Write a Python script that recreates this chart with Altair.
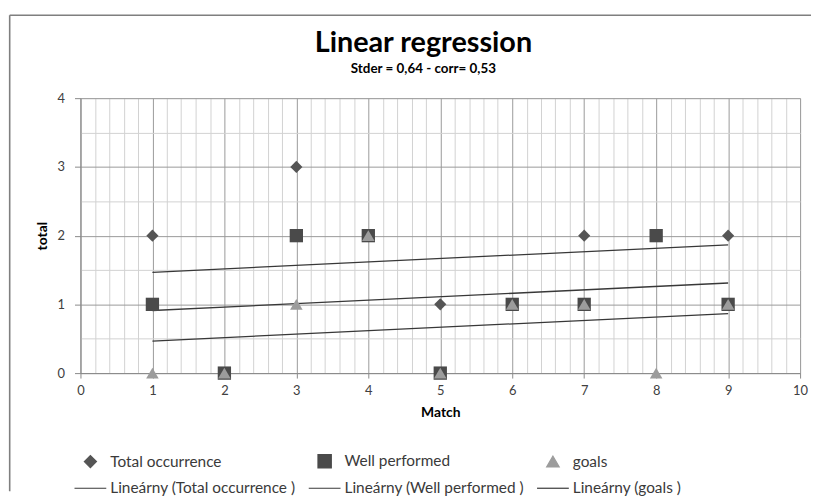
import altair as alt
import pandas as pd

match = [1, 2, 3, 4, 5, 6, 7, 8, 9]
total_occurrence = [2, 0, 3, 2, 1, 1, 2, 2, 2]
well_performed = [1, 0, 2, 2, 0, 1, 1, 2, 1]
goals = [0, 0, 1, 2, 0, 1, 1, 0, 1]

series_names = ["Total occurrence", "Well performed", "goals"]
line_names = ["Lineárny (Total occurrence )", "Lineárny (Well performed )", "Lineárny (goals )"]

rows = []
for name, vals in zip(series_names, [total_occurrence, well_performed, goals]):
    for m, v in zip(match, vals):
        rows.append({"match": m, "value": v, "series": name, "key": name})
df = pd.DataFrame(rows)

keys = series_names + line_names
color_scale = alt.Scale(domain=keys, range=["#555555", "#4a4a4a", "#9c9c9c", "#383838", "#383838", "#383838"])
shape_scale = alt.Scale(domain=keys, range=["diamond", "square", "triangle-up", "stroke", "stroke", "stroke"])
size_scale = alt.Scale(type="ordinal", domain=keys, range=[150, 180, 160, 1024, 1024, 1024])

x_vals = [round(i * 0.2, 1) for i in range(51)]
y_vals = [round(i * 0.5, 1) for i in range(9)]
is_major = "abs(datum.value - round(datum.value)) < 0.001"
label_expr = f"{is_major} ? '' + round(datum.value) : ''"

x_axis = alt.Axis(
    values=x_vals, title="Match", labelExpr=label_expr,
    gridColor={"condition": {"test": is_major, "value": "#9a9a9a"}, "value": "#d2d2d2"},
    tickColor={"condition": {"test": is_major, "value": "#8a8a8a"}, "value": "transparent"},
    tickSize=5, labelPadding=7, labelFlush=False, labelOverlap=False,
    labelFont="Lato", labelFontSize=13, labelColor="#404040",
    titleFont="Lato", titleFontSize=14, titleFontWeight="bold", titleColor="#000000", titlePadding=8,
    domainColor="#8a8a8a", gridWidth=1,
)
y_axis = alt.Axis(
    values=y_vals, title="total", labelExpr=label_expr,
    gridColor={"condition": {"test": is_major, "value": "#9a9a9a"}, "value": "#d2d2d2"},
    tickColor={"condition": {"test": is_major, "value": "#8a8a8a"}, "value": "transparent"},
    tickSize=6, labelPadding=10, labelFlush=False, labelOverlap=False,
    labelFont="Lato", labelFontSize=13, labelColor="#404040",
    titleFont="Lato", titleFontSize=14, titleFontWeight="bold", titleColor="#000000", titlePadding=8,
    domainColor="#8a8a8a",
)

x_enc = alt.X("match:Q", scale=alt.Scale(domain=[0, 10], nice=False, zero=False), axis=x_axis)
y_enc = alt.Y("value:Q", scale=alt.Scale(domain=[0, 4], nice=False), axis=y_axis)

legend = alt.Legend(
    title=None, orient="none", direction="horizontal", legendX=-7, legendY=358,
    columns=3, columnPadding=10, rowPadding=1,
    labelFont="Lato", labelFontSize=15.5, labelColor="#3a3a3a", labelLimit=400, labelOffset=3,
    symbolStrokeWidth=1.2, symbolOpacity=1,
)

base = alt.Chart(df)

lines = base.transform_regression(
    "match", "value", groupby=["series"]
).transform_calculate(
    key="'Lineárny (' + datum.series + ' )'"
).mark_line(strokeWidth=1.3).encode(
    x=x_enc, y=y_enc,
    color=alt.Color("key:N", scale=color_scale, legend=legend),
)

points = base.mark_point(filled=True, opacity=1).encode(
    x=x_enc, y=y_enc,
    color=alt.Color("key:N", scale=color_scale, legend=legend),
    shape=alt.Shape("key:N", scale=shape_scale, legend=legend),
    size=alt.Size("key:N", scale=size_scale, legend=legend),
)

frame_data = alt.Data(values=[{"a": 0}])
frame_left = alt.Chart(frame_data).mark_rule(color="#7f7f7f", strokeWidth=1.6).encode(
    x=alt.value(-71.3), y=alt.value(-83.5), y2=alt.value(396)
)
frame_top = alt.Chart(frame_data).mark_rule(color="#7f7f7f", strokeWidth=1.6).encode(
    x=alt.value(-71.3), x2=alt.value(736), y=alt.value(-83.5)
)

chart = alt.layer(frame_left, frame_top, lines, points).properties(
    width=725, height=277,
    padding={"left": 0, "top": 4, "right": 0, "bottom": 0},
    title=alt.TitleParams(
        "Linear regression", subtitle="Stder = 0,64 - corr= 0,53",
        font="Lato", fontSize=29, fontWeight="bold", color="#000000",
        subtitleFont="Lato", subtitleFontSize=13.5, subtitleFontWeight="bold", subtitleColor="#000000",
        anchor="middle", dx=-17, dy=69, offset=8, subtitlePadding=4,
    ),
).configure_view(stroke=None).configure(background="white")

chart.save("out.html", embed_options={"renderer": "svg", "actions": False})
